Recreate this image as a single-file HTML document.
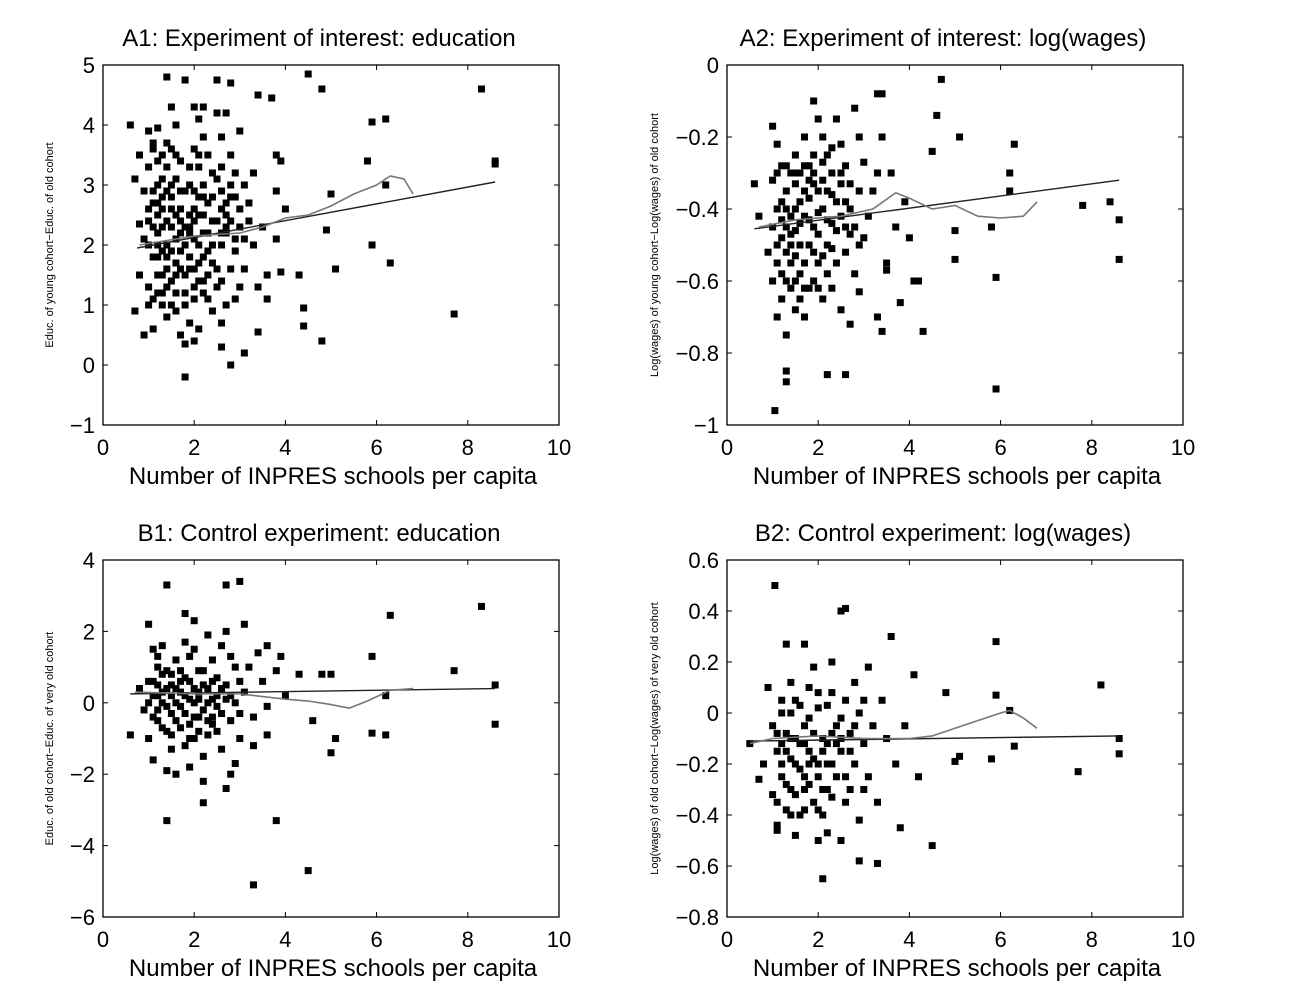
<!DOCTYPE html>
<html><head><meta charset="utf-8"><style>
body{margin:0;background:#fff;width:1298px;height:996px;overflow:hidden;font-family:"Liberation Sans",sans-serif}
svg{position:absolute;left:0;top:0}
</style></head><body>
<svg id="chart" width="1298" height="996"></svg>
<script>
const xTicks=[0,2,4,6,8,10];
const yTicksA1=[-1,0,1,2,3,4,5];
const yTicksA2=[-1,-0.8,-0.6,-0.4,-0.2,0];
const yTicksB1=[-6,-4,-2,0,2,4];
const yTicksB2=[-0.8,-0.6,-0.4,-0.2,0,0.2,0.4,0.6];
const ptsA1=[[0.6,4.0],[1.4,4.8],[1.8,4.75],[2.5,4.75],[2.8,4.7],[4.5,4.85],[4.8,4.6],[8.3,4.6],[3.4,4.5],[3.7,4.45],[5.9,4.05],[6.2,4.1],[8.6,3.4],[8.6,3.35],[5.8,3.4],[6.2,3.0],[5.0,2.85],[4.9,2.25],[5.9,2.0],[6.3,1.7],[5.1,1.6],[4.3,1.5],[3.9,1.55],[4.4,0.95],[4.4,0.65],[4.8,0.4],[7.7,0.85],[1.8,-0.2],[2.8,0.0],[0.7,0.9],[0.9,0.5],[1.8,0.35],[2.0,0.4],[2.6,0.3],[3.1,0.2],[3.4,0.55],[3.8,3.5],[3.9,3.4],[3.3,3.2],[3.8,2.9],[4.0,2.6],
[1.0,3.9],[1.1,3.7],[1.2,3.95],[1.3,3.5],[1.0,3.3],[1.2,3.0],[0.9,2.9],[1.1,2.7],[1.3,2.6],[1.0,2.4],[0.8,2.35],[1.2,2.2],[1.4,2.0],[1.0,2.0],[1.1,1.8],[0.8,1.5],[1.3,1.5],[1.0,1.0],[1.2,1.2],[1.4,0.8],[1.1,0.6],[1.5,4.3],[1.6,4.0],[1.5,3.6],[1.7,3.4],[1.6,3.1],[1.8,2.9],[1.5,2.8],[1.7,2.6],[1.9,2.5],[1.5,2.3],[1.6,2.1],[1.8,2.0],[1.9,1.8],[1.7,1.6],[1.5,1.4],[1.6,1.2],[1.8,1.0],[1.9,0.7],[1.7,0.5],[2.0,4.3],[2.1,4.1],[2.2,3.8],[2.0,3.6],[2.3,3.5],[2.1,3.3],[2.4,3.2],[2.2,3.0],[2.0,2.9],[2.3,2.7],[2.1,2.5],[2.4,2.4],[2.2,2.2],[2.0,2.1],[2.3,1.9],[2.1,1.7],[2.5,1.6],[2.2,1.4],[2.0,1.3],[2.3,1.1],[2.4,0.9],[2.1,0.6],[2.6,0.7],[2.7,2.7],[2.6,2.6],[2.9,2.8],[2.7,2.5],[3.2,2.7],[2.6,2.9],[3.0,2.6],[2.8,2.8],[2.7,2.2],[2.6,2.0],[2.9,1.9],[2.8,1.6],[2.6,1.4],[3.0,1.3],[2.9,1.1],[2.5,3.1],[2.8,3.0],[2.6,3.3],[2.9,3.2],[3.1,3.0],[2.8,3.5],[2.6,3.8],[3.0,3.9],[2.7,4.2],[2.5,4.2],[2.2,4.3],[3.2,2.4],[3.3,2.0],[3.1,1.6],[3.4,1.3],[3.6,1.1],[3.5,2.3],[3.8,2.1],[3.6,1.5],[1.2,3.4],[0.8,3.5],[1.1,3.6],[0.7,3.1],[1.4,2.9],[1.3,2.3],[0.9,2.1],[1.2,1.8],[1.4,1.6],[1.0,1.3],[1.3,1.0],[1.6,0.9],[1.9,2.3],[2.4,2.0],[2.5,1.3],[2.7,1.0],[1.7,2.2],[2.0,2.6],[2.2,2.8],[1.4,3.3],[1.2,2.5],
[1.1,2.9],[1.3,2.8],[1.5,2.6],[1.7,2.4],[1.9,2.2],[2.1,2.0],[2.3,2.2],[2.5,2.4],[2.7,2.3],[1.2,2.0],[1.4,1.8],[1.6,1.7],[1.8,1.5],[2.0,1.6],[2.2,1.8],[2.4,1.7],[1.0,2.6],[1.2,2.7],[1.4,2.4],[1.6,2.5],[1.8,2.3],[2.0,2.4],[2.2,2.5],[1.3,3.1],[1.5,3.0],[1.7,2.9],[1.9,3.0],[2.1,2.8],[1.1,2.3],[1.3,1.9],[1.5,1.9],[1.7,1.9],[1.9,1.6],[2.1,1.4],[2.3,1.5],[1.2,1.5],[1.4,1.3],[1.6,1.5],[1.8,1.2],[2.0,1.1],[2.2,1.2],[1.1,1.1],[1.3,1.2],[1.5,1.0],[1.9,3.3],[2.1,3.5],[1.6,3.5],[1.4,3.7],[2.4,2.8],[2.6,2.2],[2.8,2.4],[3.0,2.3],[3.1,2.1],[2.9,2.1]];
const fitA1=[[0.75,1.95],[8.6,3.05]];
const smA1=[[0.8,2.0],[2,2.15],[3,2.2],[3.5,2.3],[4,2.45],[4.5,2.5],[5,2.65],[5.5,2.85],[6,3.0],[6.3,3.15],[6.6,3.1],[6.8,2.85]];
const ptsA2=[[1.05,-0.96],[1.3,-0.88],[1.3,-0.85],[2.2,-0.86],[2.6,-0.86],[5.9,-0.9],[5.9,-0.59],[4.7,-0.04],[3.4,-0.08],[3.3,-0.08],[1.9,-0.1],[4.6,-0.14],[5.1,-0.2],[6.3,-0.22],[4.5,-0.24],[6.2,-0.3],[6.2,-0.35],[7.8,-0.39],[8.4,-0.38],[8.6,-0.43],[8.6,-0.54],[5.0,-0.46],[5.0,-0.54],[4.0,-0.48],[3.5,-0.55],[3.5,-0.57],[4.1,-0.6],[4.2,-0.6],[3.8,-0.66],[4.3,-0.74],[3.3,-0.7],[3.4,-0.74],[5.8,-0.45],[0.6,-0.33],[0.7,-0.42],[0.9,-0.52],
[1.0,-0.17],[1.1,-0.22],[1.2,-0.28],[1.0,-0.32],[1.3,-0.35],[1.1,-0.4],[1.0,-0.45],[1.2,-0.48],[1.1,-0.55],[1.0,-0.6],[1.2,-0.65],[1.1,-0.7],[1.3,-0.75],[1.4,-0.3],[1.5,-0.33],[1.6,-0.38],[1.4,-0.42],[1.5,-0.46],[1.6,-0.5],[1.4,-0.55],[1.5,-0.6],[1.6,-0.65],[1.7,-0.7],[1.5,-0.25],[1.7,-0.2],[1.8,-0.28],[1.9,-0.33],[1.8,-0.37],[2.0,-0.41],[1.9,-0.45],[1.8,-0.5],[2.0,-0.55],[1.9,-0.6],[2.1,-0.65],[2.0,-0.15],[2.1,-0.2],[2.2,-0.25],[2.3,-0.3],[2.2,-0.35],[2.1,-0.4],[2.3,-0.44],[2.2,-0.5],[2.4,-0.55],[2.3,-0.62],[2.5,-0.68],[2.4,-0.15],[2.5,-0.22],[2.6,-0.28],[2.7,-0.33],[2.6,-0.38],[2.5,-0.42],[2.7,-0.47],[2.6,-0.52],[2.8,-0.58],[2.7,-0.72],[2.8,-0.12],[2.9,-0.2],[3.0,-0.27],[2.9,-0.35],[3.1,-0.42],[3.0,-0.48],[3.2,-0.35],[2.9,-0.63],[1.3,-0.45],[1.7,-0.42],[2.0,-0.35],[2.4,-0.38],[1.6,-0.3],[1.9,-0.52],[2.2,-0.58],[1.4,-0.62],[1.2,-0.38],[1.8,-0.32],[2.5,-0.33],[3.3,-0.3],[3.6,-0.3],[3.9,-0.38],[3.7,-0.45],[3.4,-0.2],
[1.1,-0.3],[1.3,-0.4],[1.5,-0.4],[1.7,-0.35],[1.9,-0.3],[2.1,-0.32],[2.3,-0.36],[2.5,-0.3],[1.2,-0.43],[1.4,-0.47],[1.6,-0.44],[1.8,-0.43],[2.0,-0.47],[2.2,-0.43],[2.4,-0.46],[1.3,-0.52],[1.5,-0.53],[1.7,-0.55],[2.1,-0.53],[2.3,-0.51],[1.2,-0.58],[1.4,-0.5],[1.6,-0.58],[1.8,-0.62],[2.0,-0.62],[1.3,-0.28],[1.5,-0.3],[1.7,-0.28],[1.9,-0.25],[2.1,-0.27],[2.3,-0.23],[2.7,-0.4],[2.8,-0.45],[2.6,-0.45],[2.9,-0.5],[1.1,-0.5],[1.3,-0.6],[1.5,-0.68],[1.7,-0.62]];
const fitA2=[[0.6,-0.455],[8.6,-0.32]];
const smA2=[[0.7,-0.45],[1.5,-0.43],[2.5,-0.42],[3.2,-0.4],[3.7,-0.355],[4.0,-0.37],[4.5,-0.4],[5,-0.39],[5.5,-0.42],[6,-0.425],[6.5,-0.42],[6.8,-0.38]];
const ptsB1=[[1.4,3.3],[2.7,3.3],[3.0,3.4],[1.8,2.5],[6.3,2.45],[8.3,2.7],[7.7,0.9],[5.9,1.3],[8.6,0.5],[8.6,-0.6],[6.2,0.2],[5.9,-0.85],[6.2,-0.9],[5.1,-1.0],[5.0,-1.4],[4.5,-4.7],[3.3,-5.1],[3.8,-3.3],[1.4,-3.3],[2.2,-2.8],[2.7,-2.4],[0.6,-0.9],[3.6,1.6],[3.9,1.3],[4.3,0.8],[4.8,0.8],[5.0,0.8],[4.6,-0.5],[4.0,0.2],
[1.0,2.2],[1.1,1.5],[1.2,1.0],[1.0,0.6],[1.1,0.2],[0.9,-0.2],[1.2,-0.5],[1.0,-1.0],[1.1,-1.6],[1.3,0.8],[1.4,0.4],[1.3,0.0],[1.5,-0.3],[1.4,-0.8],[1.5,-1.3],[1.6,-2.0],[1.6,1.2],[1.7,0.6],[1.8,0.2],[1.7,-0.1],[1.9,-0.6],[1.8,-1.2],[1.9,-1.8],[2.0,2.3],[2.0,1.5],[2.1,0.9],[2.2,0.5],[2.0,0.0],[2.1,-0.4],[2.3,-0.9],[2.2,-1.5],[2.3,1.9],[2.4,1.2],[2.5,0.7],[2.4,0.1],[2.6,-0.3],[2.5,-0.8],[2.6,-1.3],[2.7,2.0],[2.8,1.3],[2.7,0.5],[2.9,0.0],[2.8,-0.5],[3.0,-1.0],[2.9,-1.7],[3.1,2.2],[3.2,1.0],[3.1,0.3],[3.3,-0.4],[3.4,1.4],[3.5,0.6],[3.6,-0.1],[3.8,0.9],[1.2,0.5],[1.5,0.2],[1.7,0.3],[1.9,0.1],[2.1,0.3],[2.3,0.0],[1.6,-0.5],[2.0,-1.0],[2.4,-0.4],[1.3,1.6],[1.8,1.7],[2.6,1.6],[1.1,-0.4],[1.4,-1.9],[2.8,-2.0],[0.8,0.4],[3.0,0.6],[3.3,-1.2],[2.2,-2.2],[1.5,0.8],[2.9,1.0],[3.6,-0.9],
[1.1,0.6],[1.3,0.3],[1.5,0.5],[1.7,0.9],[1.9,0.6],[2.1,0.1],[2.3,0.4],[2.5,0.2],[2.7,0.1],[1.2,-0.2],[1.4,-0.1],[1.6,0.0],[1.8,-0.3],[2.0,-0.4],[2.2,-0.2],[2.4,-0.6],[2.6,0.4],[1.2,0.2],[1.4,0.9],[1.6,0.4],[1.8,0.7],[2.0,0.4],[2.2,0.9],[2.4,0.6],[1.3,-0.7],[1.5,-0.9],[1.7,-0.7],[1.9,-1.0],[2.1,-0.8],[2.3,-0.5],[1.0,0.0],[1.2,1.3],[1.9,1.3],[2.5,-0.1],[2.8,0.2],[3.0,-0.3]];
const fitB1=[[0.6,0.25],[8.6,0.4]];
const smB1=[[0.7,0.3],[2,0.25],[3,0.25],[4,0.1],[4.5,0.05],[5,-0.05],[5.4,-0.15],[5.8,0.05],[6.3,0.35],[6.8,0.4]];
const ptsB2=[[1.05,0.5],[2.5,0.4],[2.6,0.41],[5.9,0.28],[3.6,0.3],[8.2,0.11],[5.9,0.07],[6.2,0.01],[4.8,0.08],[4.1,0.15],[5.1,-0.17],[5.0,-0.19],[5.8,-0.18],[6.3,-0.13],[7.7,-0.23],[8.6,-0.1],[8.6,-0.16],[4.5,-0.52],[2.9,-0.58],[3.3,-0.59],[2.1,-0.65],[2.5,-0.5],[2.2,-0.47],[1.1,-0.46],[1.1,-0.44],[3.8,-0.45],[0.5,-0.12],[0.7,-0.26],[0.9,0.1],[1.3,0.27],[1.7,0.27],[2.3,0.2],[3.1,0.18],
[1.0,-0.05],[1.1,-0.15],[1.2,-0.25],[1.0,-0.32],[1.3,-0.38],[1.2,0.0],[1.4,-0.1],[1.5,-0.2],[1.4,-0.3],[1.6,-0.4],[1.5,0.05],[1.7,-0.05],[1.8,-0.15],[1.7,-0.25],[1.9,-0.35],[1.8,0.1],[2.0,0.02],[2.1,-0.1],[2.0,-0.2],[2.2,-0.3],[2.1,-0.4],[2.3,0.08],[2.4,-0.05],[2.5,-0.15],[2.4,-0.25],[2.6,-0.35],[2.6,0.05],[2.7,-0.08],[2.8,-0.2],[2.7,-0.3],[2.9,-0.42],[2.9,0.0],[3.0,-0.12],[3.1,-0.25],[3.2,-0.05],[3.3,-0.35],[3.5,-0.1],[3.7,-0.2],[1.3,-0.08],[1.6,-0.12],[1.9,-0.08],[2.2,-0.12],[2.5,-0.02],[1.4,0.12],[1.9,0.18],[2.8,0.12],[1.2,-0.2],[1.8,-0.28],[2.3,-0.2],[3.0,-0.3],[1.5,-0.48],[2.0,-0.5],[0.8,-0.2],[3.4,0.05],[3.9,-0.05],[4.2,-0.25],
[1.1,-0.08],[1.3,-0.15],[1.5,-0.1],[1.7,-0.12],[1.9,-0.18],[2.1,-0.15],[2.3,-0.08],[2.5,-0.1],[2.7,-0.15],[1.2,-0.12],[1.4,-0.18],[1.6,-0.22],[1.8,-0.2],[2.0,-0.25],[2.2,-0.2],[2.4,-0.12],[1.3,-0.28],[1.5,-0.32],[1.7,-0.3],[2.1,-0.3],[2.3,-0.33],[1.2,0.05],[1.4,0.0],[1.6,0.03],[1.8,-0.02],[2.0,0.08],[2.2,0.03],[1.1,-0.35],[1.4,-0.4],[1.7,-0.38],[2.0,-0.38],[2.6,-0.25],[2.8,-0.05],[3.0,0.05]];
const fitB2=[[0.5,-0.11],[8.6,-0.09]];
const smB2=[[0.5,-0.12],[1,-0.1],[2,-0.09],[3,-0.1],[4,-0.1],[4.5,-0.09],[5,-0.06],[5.5,-0.03],[6,0.0],[6.2,0.01],[6.5,-0.02],[6.8,-0.06]];

const NS='http://www.w3.org/2000/svg';
const svg=document.getElementById('chart');
function mk(tag,attrs,parent){const e=document.createElementNS(NS,tag);for(const k in attrs)e.setAttribute(k,attrs[k]);(parent||svg).appendChild(e);return e;}
function fmt(v){let s=(Math.round(v*10)/10).toString();return s.replace('-','\u2212');}
function panel(id,L,T,R,B,ymin,ymax,yticks,title,ylabel,pts,fit,sm,yoff){
  const g=mk('g',{});
  
  
  const sx=v=>L+(v-0)/(10-0)*(R-L);
  const sy=v=>B-(v-ymin)/(ymax-ymin)*(B-T);
  const box=mk('rect',{x:L,y:T,width:R-L,height:B-T,fill:'none',stroke:'#000','stroke-width':1.3},g);
  
  
  xTicks.forEach(t=>{const x=sx(t);
    mk('line',{x1:x,y1:B,x2:x,y2:B-5,stroke:'#000'},g);mk('line',{x1:x,y1:T,x2:x,y2:T+5,stroke:'#000'},g);
    const tx=mk('text',{x:x,y:B+30,'text-anchor':'middle','font-size':22},g);tx.textContent=fmt(t);
    
    });
  yticks.forEach(t=>{const y=sy(t);
    mk('line',{x1:L,y1:y,x2:L+5,y2:y,stroke:'#000'},g);mk('line',{x1:R,y1:y,x2:R-5,y2:y,stroke:'#000'},g);
    const tx=mk('text',{x:L-8,y:y+8,'text-anchor':'end','font-size':22},g);tx.textContent=fmt(t);
    
    });
  const ti=mk('text',{x:(L+R)/2-12,y:T-19,'text-anchor':'middle','font-size':24},g);ti.textContent=title;
  
  
  const xl=mk('text',{x:(L+R)/2+2,y:B+59,'text-anchor':'middle','font-size':24},g);xl.textContent='Number of INPRES schools per capita';
  
  
  const yx=L-yoff,yy=(T+B)/2;
  const yl=mk('text',{x:yx,y:yy,'text-anchor':'middle','font-size':11,transform:`rotate(-90 ${yx} ${yy})`},g);yl.textContent=ylabel;
  
  
  pts.forEach(p=>{const r=mk('rect',{x:sx(p[0])-3.5,y:sy(p[1])-3.5,width:7,height:7,fill:'#000'},g);
    
    });
  const fl=mk('polyline',{points:fit.map(p=>sx(p[0])+','+sy(p[1])).join(' '),fill:'none',stroke:'#222','stroke-width':1.4},g);
  
  
  const sl=mk('polyline',{points:sm.map(p=>sx(p[0])+','+sy(p[1])).join(' '),fill:'none',stroke:'#777','stroke-width':1.6},g);
  
  
}
panel('a1',103,65,559,425,-1,5,yTicksA1,'A1: Experiment of interest: education','Educ. of young cohort\u2212Educ. of old cohort',ptsA1,fitA1,smA1,50);
panel('a2',727,65,1183,425,-1,0,yTicksA2,'A2: Experiment of interest: log(wages)','Log(wages) of young cohort\u2212Log(wages) of old cohort',ptsA2,fitA2,smA2,69);
panel('b1',103,560,559,917,-6,4,yTicksB1,'B1: Control experiment: education','Educ. of old cohort\u2212Educ. of very old cohort',ptsB1,fitB1,smB1,50);
panel('b2',727,560,1183,917,-0.8,0.6,yTicksB2,'B2: Control experiment: log(wages)','Log(wages) of old cohort\u2212Log(wages) of very old cohort',ptsB2,fitB2,smB2,69);
</script>
</body></html>
